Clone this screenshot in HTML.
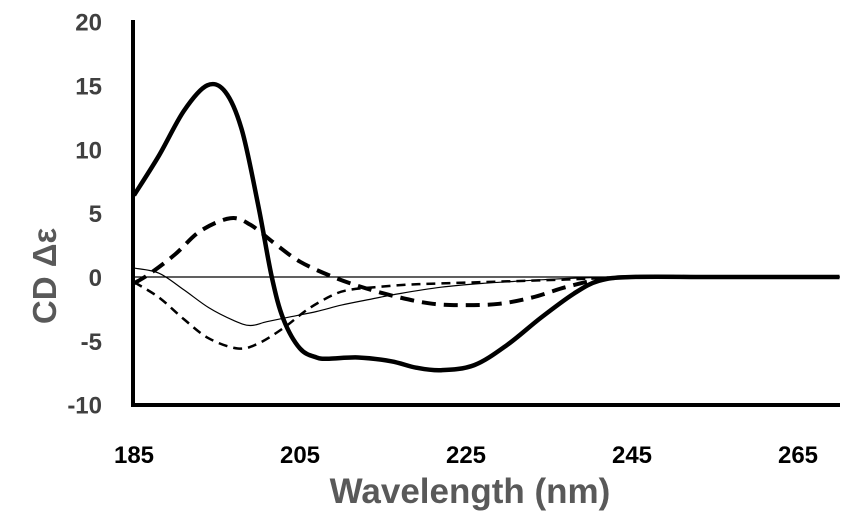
<!DOCTYPE html>
<html><head><meta charset="utf-8"><style>
body{margin:0;background:#fff}
svg{display:block;font-family:"Liberation Sans",sans-serif}
</style></head><body>
<svg id="chart" width="858" height="525">
<text x="56" y="276" transform="rotate(-90 56 276)" text-anchor="middle" font-size="33" font-weight="bold" fill="#595959">CD Δε</text>
<text x="470" y="503" text-anchor="middle" font-size="35" font-weight="bold" fill="#595959">Wavelength (nm)</text>
</svg>
<script>
const xTicks=[185,205,225,245,265];
const yTicks=[20,15,10,5,0,-5,-10];
const wl1=[185,188,191,193.8,196,198,200,201.6,203,205,207,208.5,212,216,219,222,226,230,234,238,241,245,255,270];
const s1=[6.4,9.5,13,15,14.5,11.5,5.5,0,-3.3,-5.6,-6.3,-6.4,-6.3,-6.6,-7.1,-7.3,-6.9,-5.3,-3.2,-1.3,-0.3,0,0,0];
const wl2=[185,187,190,193,196.6,199,202,205,209,213,217,221,225,229,233,237,241,245,255,270];
const s2=[-0.5,0.3,1.8,3.6,4.6,4.1,2.6,1.2,0,-0.9,-1.6,-2.1,-2.2,-2.1,-1.6,-0.8,-0.2,0,0,0];
const wl3=[185,188,191,194,197.5,200,203,206,209,211,214,218,222,227,232,237,241,245,255,270];
const s3=[-0.4,-1.6,-3.3,-4.8,-5.6,-5.2,-4,-2.5,-1.4,-1,-0.8,-0.6,-0.5,-0.4,-0.3,-0.2,-0.1,0,0,0];
const wl4=[185,188,191,194,197,199,201,204,207,210,213,217,222,227,232,236,240,245,255,270];
const s4=[0.7,0.3,-1,-2.4,-3.4,-3.8,-3.5,-3.1,-2.7,-2.2,-1.8,-1.3,-0.8,-0.5,-0.3,-0.15,-0.05,0,0,0];
const X=v=>134+(v-185)*166/20;
const Y=v=>277-v*12.77;
const svg=document.getElementById('chart');
const NS='http://www.w3.org/2000/svg';
function mk(t,a){const e=document.createElementNS(NS,t);for(const k in a)e.setAttribute(k,a[k]);svg.appendChild(e);return e;}
function path(xs,ys){const p=xs.map((x,i)=>[X(x),Y(ys[i])]);let d='M'+p[0][0]+','+p[0][1];
for(let i=0;i<p.length-1;i++){const p0=p[Math.max(0,i-1)],p1=p[i],p2=p[i+1],p3=p[Math.min(p.length-1,i+2)];
d+=' C'+(p1[0]+(p2[0]-p0[0])/6)+','+(p1[1]+(p2[1]-p0[1])/6)+' '+(p2[0]-(p3[0]-p1[0])/6)+','+(p2[1]-(p3[1]-p1[1])/6)+' '+p2[0]+','+p2[1];}return d;}
let z=mk('line',{x1:X(185),x2:840,y1:Y(0),y2:Y(0),stroke:'#000','stroke-width':1.3});

yTicks.forEach(v=>{const t=mk('text',{x:102,y:Y(v)+9,'text-anchor':'end','font-size':24,'font-weight':'bold',fill:'#404040'});t.textContent=v;
});
xTicks.forEach(v=>{const t=mk('text',{x:X(v),y:463,'text-anchor':'middle','font-size':24,'font-weight':'bold',fill:'#000'});t.textContent=v;
});
const series=[[wl4,s4,1.2,'','series-thin-solid'],[wl3,s3,2.5,'9,6','series-thin-dashed'],[wl2,s2,4,'14,8','series-thick-dashed'],[wl1,s1,4.5,'','series-thick-solid']];
series.forEach(s=>{const e=mk('path',{d:path(s[0],s[1]),fill:'none',stroke:'#000','stroke-width':s[2],'stroke-dasharray':s[3]});
});
const ax=mk('path',{d:'M133,20 L133,405 L840,405',fill:'none',stroke:'#000','stroke-width':4});

</script>
</body></html>
